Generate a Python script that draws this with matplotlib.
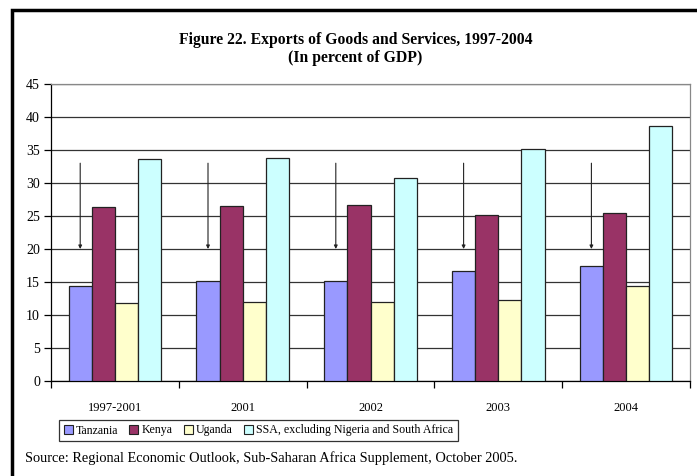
import matplotlib
matplotlib.use('Agg')
import matplotlib.pyplot as plt
import numpy as np

plt.rcParams['font.family'] = ['Liberation Serif', 'DejaVu Serif']

periods = ['1997-2001', '2001', '2002', '2003', '2004']
tanzania = [14.4, 15.1, 15.1, 16.6, 17.5]
kenya = [26.3, 26.5, 26.7, 25.1, 25.4]
uganda = [11.8, 12.0, 12.0, 12.2, 14.4]
ssa = [33.6, 33.8, 30.8, 35.1, 38.6]
series_names = ['Tanzania', 'Kenya', 'Uganda', 'SSA, excluding Nigeria and South Africa']
series_colors = ['#9999FF', '#993366', '#FFFFCC', '#CCFFFF']
arrow_from, arrow_to = 33, 20

fig = plt.figure(figsize=(6.97, 4.76), dpi=100)
ax = fig.add_axes([51/697, 1 - 381/476, (690 - 51)/697, (381 - 84)/476])

x = np.arange(len(periods))
w = 0.181
for k, (vals, name, c) in enumerate(zip([tanzania, kenya, uganda, ssa], series_names, series_colors)):
    ax.bar(x + (k - 1.5) * w, vals, w, color=c, edgecolor='#222222', linewidth=0.9,
           label=name, zorder=3)

# arrows over the Tanzania bars
for xi in x:
    ax.annotate('', xy=(xi - 1.5 * w, arrow_to), xytext=(xi - 1.5 * w, arrow_from),
                arrowprops=dict(arrowstyle='-|>', color='#222222', lw=0.8,
                                mutation_scale=5, shrinkA=0, shrinkB=0), zorder=4)

ax.set_xlim(-0.5, len(periods) - 0.5)
ax.set_ylim(0, 45)
ax.set_yticks(range(0, 46, 5))
ax.yaxis.grid(True, color='#333333', linewidth=0.9, zorder=0)
ax.set_axisbelow(True)

ax.set_xticks(np.arange(-0.5, len(periods), 1))
ax.set_xticklabels([])
ax.set_xticks(x, minor=True)
ax.set_xticklabels(periods, minor=True, fontsize=9)
ax.tick_params(axis='x', which='major', direction='out', length=5, width=0.9)
ax.tick_params(axis='x', which='minor', length=0, pad=15)
ax.tick_params(axis='y', direction='out', length=5, width=0.9, labelsize=10, pad=3)

for s in ['top', 'right']:
    ax.spines[s].set_color('#888888')
    ax.spines[s].set_linewidth(0.9)
for s in ['left', 'bottom']:
    ax.spines[s].set_color('black')
    ax.spines[s].set_linewidth(0.9)

fig.text(356/697, 1 - 40/476, 'Figure 22. Exports of Goods and Services, 1997-2004',
         ha='center', va='center', fontsize=11.3, fontweight='bold')
fig.text(355/697, 1 - 58/476, '(In percent of GDP)',
         ha='center', va='center', fontsize=11.3, fontweight='bold')

leg = fig.legend(loc='center', bbox_to_anchor=(258.5/697, 1 - 430.5/476), ncol=4,
                 fontsize=8.6, frameon=True, fancybox=False, edgecolor='black',
                 handlelength=0.75, handleheight=0.75, handletextpad=0.3,
                 columnspacing=0.9, borderpad=0.35, borderaxespad=0)
leg.get_frame().set_linewidth(0.9)
for h in leg.legend_handles:
    h.set_linewidth(0.8)

fig.text(25/697, 1 - 458/476,
         'Source: Regional Economic Outlook, Sub-Saharan Africa Supplement, October 2005.',
         ha='left', va='center', fontsize=10.4)

# outer frame
fig.patches.append(plt.Rectangle((12/697, -0.1), 1.0, 1.1 - 10/476, transform=fig.transFigure,
                                 fill=False, edgecolor='black', linewidth=2.5))

fig.savefig('out.png', dpi=100)
